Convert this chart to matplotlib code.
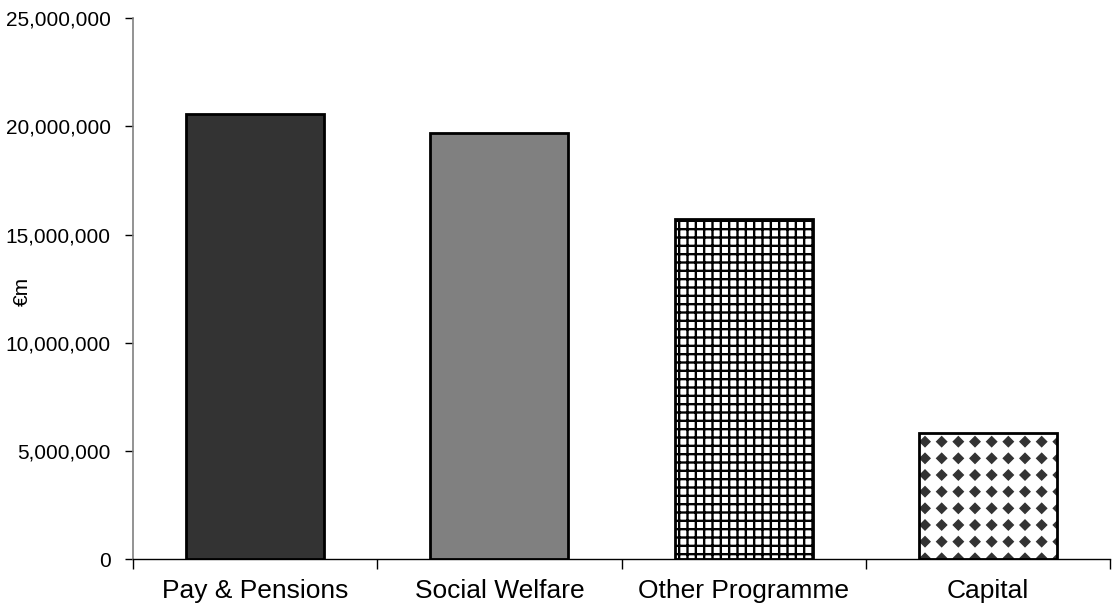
import numpy as np
import matplotlib
matplotlib.use("Agg")
import matplotlib.pyplot as plt
import matplotlib.hatch as mhatch
from matplotlib.path import Path
from matplotlib.ticker import FuncFormatter, FixedLocator

# ---- data ----
categories = ["Pay & Pensions", "Social Welfare", "Other Programme", "Capital"]
values = [20550000, 19710000, 15740000, 5820000]
y_ticks = [0, 5000000, 10000000, 15000000, 20000000, 25000000]
y_label = "€m"

# ---- custom diamond hatch (replaces '*' stars pattern) ----
class DiamondHatch(mhatch.HatchPatternBase):
    def __init__(self, hatch, density):
        self.num_rows = int(hatch.count('*') * density)
        self.num_vertices = 5 * self.num_rows * self.num_rows if self.num_rows else 0

    def set_vertices_and_codes(self, vertices, codes):
        n = self.num_rows
        step = 1.0 / n
        r = 0.30 * step
        shape = np.array([[0, r], [r, 0], [0, -r], [-r, 0], [0, r]])
        idx = 0
        for i in range(n):
            for j in range(n):
                c = np.array([(j + 0.5) * step, (i + 0.5) * step])
                vertices[idx:idx + 5] = shape + c
                codes[idx] = Path.MOVETO
                codes[idx + 1:idx + 4] = Path.LINETO
                codes[idx + 4] = Path.CLOSEPOLY
                idx += 5

mhatch._hatch_types = [h for h in mhatch._hatch_types if h is not mhatch.Stars] + [DiamondHatch]

plt.rcParams['font.family'] = ['Liberation Sans', 'DejaVu Sans']

fig = plt.figure(figsize=(11.15, 6.07), dpi=100)
ax = fig.add_axes([0.1193, 0.0786, 0.8762, 0.8917])

x = np.arange(len(categories))
width = 0.565
fills = ['#333333', '#808080', 'white', 'white']
hatches = [None, None, '++', '*']
hatch_colors = ['black', 'black', 'black', '#333333']
hatch_lw = [1.0, 1.0, 1.7, 1.0]

for xi, v, fc, h, hc, hl in zip(x, values, fills, hatches, hatch_colors, hatch_lw):
    if h:
        b = ax.bar(xi, v, width=width, color=fc, edgecolor=hc, hatch=h, linewidth=0, zorder=2)
        for p in b:
            if hasattr(p, 'set_hatch_linewidth'):
                p.set_hatch_linewidth(hl)
        ax.bar(xi, v, width=width, fill=False, edgecolor='black', linewidth=2.0, zorder=3)
    else:
        ax.bar(xi, v, width=width, color=fc, edgecolor='black', linewidth=2.0, zorder=3)

ax.set_xlim(-0.5, len(categories) - 0.5)
ax.set_ylim(0, 25000000)

ax.set_yticks(y_ticks)
ax.yaxis.set_major_formatter(FuncFormatter(lambda v, p: f"{int(v):,}"))
ax.tick_params(axis='y', direction='out', length=6, width=1, pad=10, labelsize=15, colors='black')

ax.set_xticks(x)
ax.set_xticklabels(categories)
ax.xaxis.set_minor_locator(FixedLocator(np.arange(len(categories) + 1) - 0.5))
ax.tick_params(axis='x', which='major', length=0, pad=14, labelsize=19)
ax.tick_params(axis='x', which='minor', direction='out', length=7, width=1, color='black')

for s in ['top', 'right']:
    ax.spines[s].set_visible(False)
ax.spines['left'].set_color('#808080')
ax.spines['left'].set_linewidth(1.2)
ax.spines['bottom'].set_color('black')
ax.spines['bottom'].set_linewidth(1.0)

fig.text(0.0205, 0.52, y_label, rotation=90, va='center', ha='center', fontsize=15)

fig.savefig("out.png", dpi=100)
